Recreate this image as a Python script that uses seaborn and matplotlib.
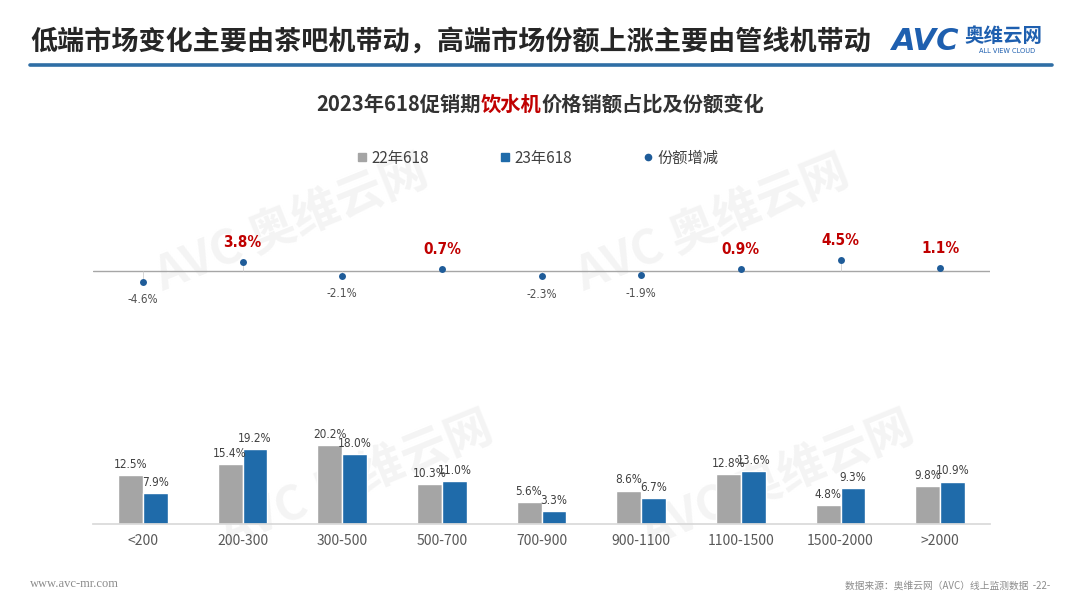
import matplotlib
matplotlib.use("Agg")
import matplotlib.pyplot as plt
from matplotlib.lines import Line2D
from matplotlib import font_manager
import seaborn as sns
import pandas as pd

# ---- data ----
categories = ['<200', '200-300', '300-500', '500-700', '700-900',
              '900-1100', '1100-1500', '1500-2000', '>2000']
share_22 = [12.5, 15.4, 20.2, 10.3, 5.6, 8.6, 12.8, 4.8, 9.8]
share_23 = [7.9, 19.2, 18.0, 11.0, 3.3, 6.7, 13.6, 9.3, 10.9]
share_change = [-4.6, 3.8, -2.1, 0.7, -2.3, -1.9, 0.9, 4.5, 1.1]
series_names = ['22年618', '23年618']
change_name = '份额增减'

# ---- style ----
sns.set_theme(style='white')
plt.rcParams['font.family'] = ['Noto Sans CJK SC', 'DejaVu Sans']
fonts = font_manager.fontManager.ttflist
names = {f.name for f in fonts}
has_cond = any(f.name == 'DejaVu Sans' and f.stretch in ('condensed', 'semi-condensed', 600, 700)
               for f in fonts) if False else any('Condensed' in f.fname and 'DejaVuSans' in f.fname for f in fonts)
if 'Liberation Sans Narrow' in names:
    narrow, stretch = 'Liberation Sans Narrow', 'normal'
else:
    narrow, stretch = 'DejaVu Sans', ('condensed' if has_cond else 'normal')

GRAY = '#A5A5A5'
BLUE = '#1F6BAA'
DOT = '#1F5C99'
RED = '#C00000'
TXT = '#404040'

fig = plt.figure(figsize=(10.8, 6.08), dpi=100)
fig.patch.set_facecolor('white')

# header
fig.text(30 / 1080, 1 - 42 / 608, '低端市场变化主要由茶吧机带动，高端市场份额上涨主要由管线机带动',
         fontsize=19.5, fontweight='bold', color='#262626', va='center', ha='left')
fig.add_artist(Line2D([30 / 1080, 1052 / 1080], [1 - 65 / 608] * 2, color='#2F6EA5', lw=2.6))
fig.text(892 / 1080, 1 - 42 / 608, 'AVC', fontsize=22, fontweight='bold', fontstyle='italic',
         color='#1E5FAF', va='center', ha='left', family=['DejaVu Sans'])
fig.text(964 / 1080, 1 - 36 / 608, '奥维云网', fontsize=14, fontweight='bold',
         color='#1E5FAF', va='center', ha='left')
fig.text(1007 / 1080, 1 - 51 / 608, 'ALL VIEW CLOUD', fontsize=4.8,
         color='#1E5FAF', va='center', ha='center', family=['DejaVu Sans'])

# chart title (with red part)
TS = 14.6
ty = 1 - 104 / 608
t1 = fig.text(316 / 1080, ty, '2023年618促销期', fontsize=TS, fontweight='bold',
              color='#333333', va='center', ha='left')
fig.canvas.draw()
r = fig.canvas.get_renderer()
bb = t1.get_window_extent(r)
t2 = fig.text(bb.x1 / 1080, ty, '饮水机', fontsize=TS, fontweight='bold',
              color=RED, va='center', ha='left')
bb2 = t2.get_window_extent(r)
fig.text(bb2.x1 / 1080, ty, '价格销额占比及份额变化', fontsize=TS, fontweight='bold',
         color='#333333', va='center', ha='left')

# faint watermarks (behind everything)
for (wx, wy) in [(0.27, 0.63), (0.66, 0.63), (0.33, 0.21), (0.72, 0.21)]:
    fig.text(wx, wy, 'AVC 奥维云网', fontsize=34, fontweight='bold', color='#F4F4F4',
             rotation=22, ha='center', va='center', zorder=-5)

# legend
handles = [Line2D([], [], marker='s', ls='', color=GRAY, markersize=6),
           Line2D([], [], marker='s', ls='', color=BLUE, markersize=6),
           Line2D([], [], marker='o', ls='', color=DOT, markersize=4.5)]
fig.legend(handles, series_names + [change_name], loc='center', ncol=3,
           bbox_to_anchor=(538 / 1080, 1 - 158 / 608), frameon=False,
           fontsize=11, handlelength=0.6, handletextpad=0.3, columnspacing=4.7,
           labelcolor='#404040')

x0 = 93 / 1080
w = 897 / 1080

# ---- top: share change dots ----
ax1 = fig.add_axes([x0, 1 - 311 / 608, w, 80 / 608])
ax1.patch.set_alpha(0)
ax1.axhline(0, color='#A6A6A6', lw=1, zorder=1)
ax1.vlines(range(len(categories)), 0, share_change, color='#D0D0D0', lw=0.6, zorder=1)
sns.stripplot(x=categories, y=share_change, jitter=False, color=DOT, size=5,
              ax=ax1, zorder=3)
for i, v in enumerate(share_change):
    if v >= 0:
        ax1.annotate(f'{v:.1f}%', (i, v), xytext=(0, 14), textcoords='offset points',
                     ha='center', va='center', color=RED, fontsize=11, fontweight='bold',
                     family=[narrow], fontstretch=stretch)
    else:
        ax1.annotate(f'{v:.1f}%', (i, v), xytext=(0, -13), textcoords='offset points',
                     ha='center', va='center', color='#505050', fontsize=8.5,
                     family=[narrow], fontstretch=stretch)
ax1.set_xlim(-0.5, len(categories) - 0.5)
ax1.set_ylim(-17, 17)
ax1.axis('off')

# ---- bottom: shares ----
df = pd.DataFrame({
    'cat': categories * 2,
    'share': share_22 + share_23,
    'year': [series_names[0]] * len(categories) + [series_names[1]] * len(categories),
})
ax2 = fig.add_axes([x0, 1 - 524 / 608, w, 104 / 608])
ax2.patch.set_alpha(0)
sns.barplot(data=df, x='cat', y='share', hue='year', order=categories,
            hue_order=series_names, palette=[GRAY, BLUE], width=0.5, gap=0,
            saturation=1, legend=False, ax=ax2)
for c in ax2.containers:
    ax2.bar_label(c, fmt='%.1f%%', padding=3, fontsize=8.5, color=TXT,
                  family=[narrow], fontstretch=stretch)
ax2.set_xlim(-0.5, len(categories) - 0.5)
ax2.set_ylim(0, 26.7)
for s in ['top', 'right', 'left']:
    ax2.spines[s].set_visible(False)
ax2.spines['bottom'].set_color('#D9D9D9')
ax2.set_yticks([])
ax2.set_xlabel('')
ax2.set_ylabel('')
ax2.tick_params(axis='x', length=0, pad=7, labelsize=10, labelcolor='#595959')

# footer
fig.text(30 / 1080, 1 - 584 / 608, 'www.avc-mr.com', fontsize=9, color='#8C8C8C',
         family=['Liberation Serif', 'DejaVu Serif'], va='center', ha='left')
fig.text(1050 / 1080, 1 - 586 / 608, '数据来源：奥维云网（AVC）线上监测数据  -22-', fontsize=7,
         color='#8C8C8C', va='center', ha='right')

fig.savefig('out.png', dpi=100, facecolor='white')
